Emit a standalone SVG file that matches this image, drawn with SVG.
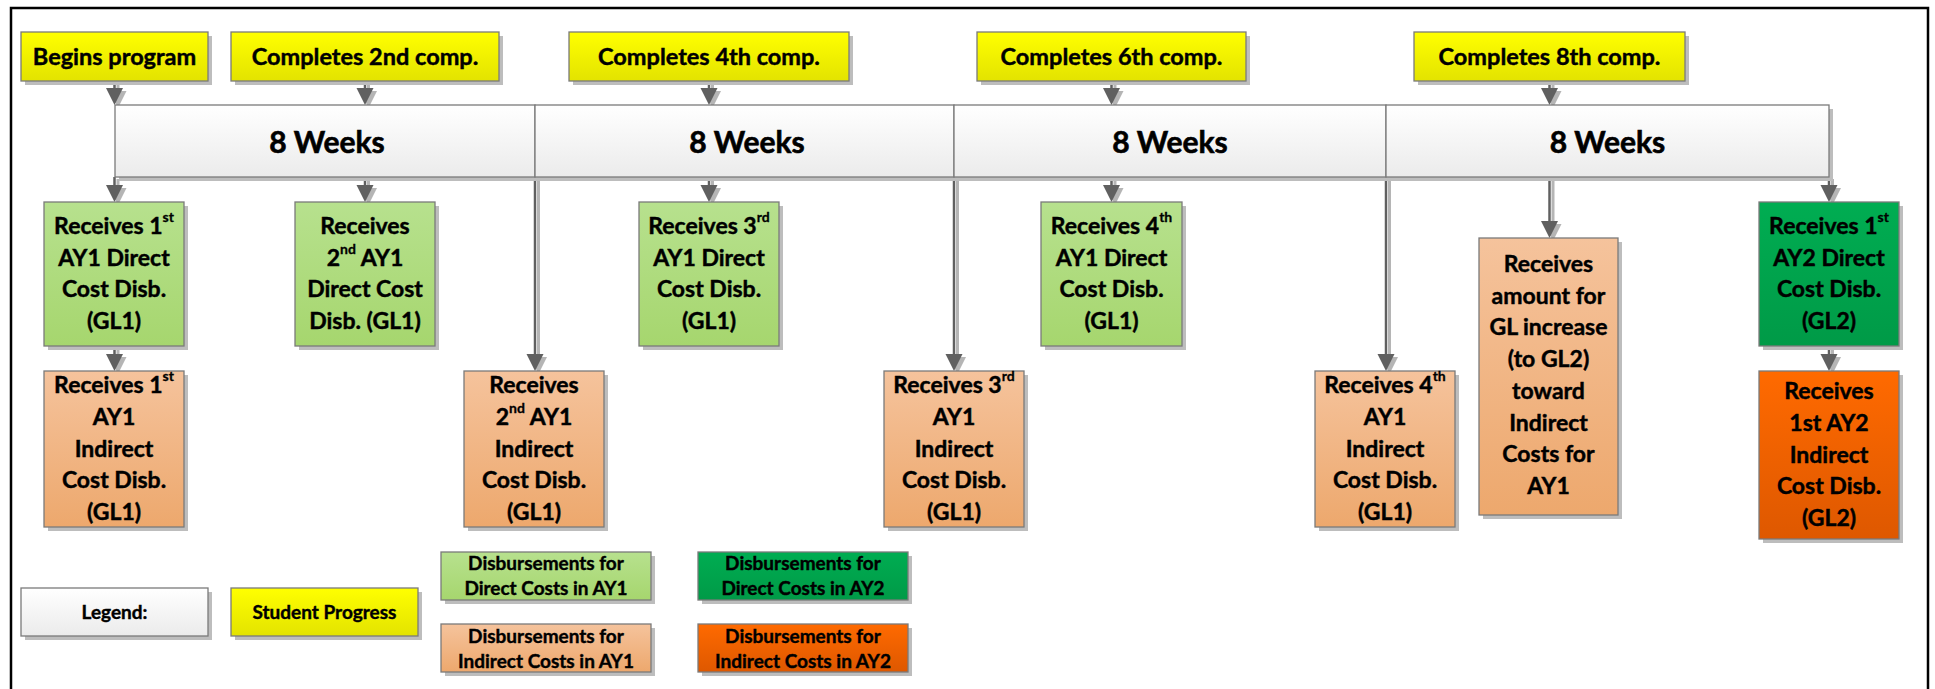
<svg xmlns="http://www.w3.org/2000/svg" width="1935" height="689" viewBox="0 0 1935 689">
<defs>
<linearGradient id="gY" x1="0" y1="0" x2="0" y2="1"><stop offset="0" stop-color="#ffff00"/><stop offset="1" stop-color="#e3e300"/></linearGradient>
<linearGradient id="gW" x1="0" y1="0" x2="0" y2="1"><stop offset="0" stop-color="#ffffff"/><stop offset="1" stop-color="#ebebeb"/></linearGradient>
<linearGradient id="gG" x1="0" y1="0" x2="0" y2="1"><stop offset="0" stop-color="#b7e18e"/><stop offset="1" stop-color="#a6d66e"/></linearGradient>
<linearGradient id="gO" x1="0" y1="0" x2="0" y2="1"><stop offset="0" stop-color="#f5c39c"/><stop offset="1" stop-color="#eda86d"/></linearGradient>
<linearGradient id="gDG" x1="0" y1="0" x2="0" y2="1"><stop offset="0" stop-color="#00ad52"/><stop offset="1" stop-color="#009a47"/></linearGradient>
<linearGradient id="gDO" x1="0" y1="0" x2="0" y2="1"><stop offset="0" stop-color="#ff6a00"/><stop offset="1" stop-color="#de5800"/></linearGradient>
</defs>
<style>
.sh{fill:#bdbdbd}
.bx{stroke:#7a7a7a;stroke-width:1.3}
.y{fill:url(#gY)}
.w{fill:url(#gW)}
.g{fill:url(#gG)}
.o{fill:url(#gO)}
.dg{fill:url(#gDG)}
.do{fill:url(#gDO)}
.t{font-family:Lato,'Liberation Sans',sans-serif;font-weight:700;font-size:23px;text-anchor:middle;fill:#000;stroke:#000;stroke-width:0.45}
.tc{font-size:23.5px}
.tw{font-size:30px;stroke-width:0.6}
.tl{font-size:19px;stroke-width:0.4}
.sup{font-size:14px;stroke-width:0.3}
.ln{stroke:#606060;stroke-width:2.5;fill:none}
.lns{stroke:#b5b5b5;stroke-width:3;fill:none}
.ah{fill:#606060}
.ahs{fill:#b5b5b5}
.border{stroke:#000;stroke-width:2.5;fill:none}
</style>
<path class="border" d="M11,689 V8 H1928 V689"/>

<g id="connectors">
<g id="c-top">
<line class="lns" x1="118" y1="83" x2="118" y2="96"/><polygon class="ahs" points="109.5,91 126.5,91 118,108"/>
<line class="ln" x1="114.5" y1="81" x2="114.5" y2="94"/><polygon class="ah" points="106,88 123,88 114.5,105"/>
<line class="lns" x1="368.5" y1="83" x2="368.5" y2="96"/><polygon class="ahs" points="360,91 377,91 368.5,108"/>
<line class="ln" x1="365" y1="81" x2="365" y2="94"/><polygon class="ah" points="356.5,88 373.5,88 365,105"/>
<line class="lns" x1="712.5" y1="83" x2="712.5" y2="96"/><polygon class="ahs" points="704,91 721,91 712.5,108"/>
<line class="ln" x1="709" y1="81" x2="709" y2="94"/><polygon class="ah" points="700.5,88 717.5,88 709,105"/>
<line class="lns" x1="1115" y1="83" x2="1115" y2="96"/><polygon class="ahs" points="1106.5,91 1123.5,91 1115,108"/>
<line class="ln" x1="1111.5" y1="81" x2="1111.5" y2="94"/><polygon class="ah" points="1103,88 1120,88 1111.5,105"/>
<line class="lns" x1="1553" y1="83" x2="1553" y2="96"/><polygon class="ahs" points="1544.5,91 1561.5,91 1553,108"/>
<line class="ln" x1="1549.5" y1="81" x2="1549.5" y2="94"/><polygon class="ah" points="1541,88 1558,88 1549.5,105"/>
</g>
<g id="c-mid">
<line class="lns" x1="118" y1="179" x2="118" y2="193"/><polygon class="ahs" points="109.5,188 126.5,188 118,205"/>
<line class="ln" x1="114.5" y1="177" x2="114.5" y2="191"/><polygon class="ah" points="106,185 123,185 114.5,202"/>
<line class="lns" x1="368.5" y1="179" x2="368.5" y2="193"/><polygon class="ahs" points="360,188 377,188 368.5,205"/>
<line class="ln" x1="365" y1="177" x2="365" y2="191"/><polygon class="ah" points="356.5,185 373.5,185 365,202"/>
<line class="lns" x1="712.5" y1="179" x2="712.5" y2="193"/><polygon class="ahs" points="704,188 721,188 712.5,205"/>
<line class="ln" x1="709" y1="177" x2="709" y2="191"/><polygon class="ah" points="700.5,185 717.5,185 709,202"/>
<line class="lns" x1="1115" y1="179" x2="1115" y2="193"/><polygon class="ahs" points="1106.5,188 1123.5,188 1115,205"/>
<line class="ln" x1="1111.5" y1="177" x2="1111.5" y2="191"/><polygon class="ah" points="1103,185 1120,185 1111.5,202"/>
<line class="lns" x1="1553" y1="179" x2="1553" y2="229"/><polygon class="ahs" points="1544.5,224 1561.5,224 1553,241"/>
<line class="ln" x1="1549.5" y1="177" x2="1549.5" y2="227"/><polygon class="ah" points="1541,221 1558,221 1549.5,238"/>
<line class="lns" x1="1832.5" y1="179" x2="1832.5" y2="193"/><polygon class="ahs" points="1824,188 1841,188 1832.5,205"/>
<line class="ln" x1="1829" y1="177" x2="1829" y2="191"/><polygon class="ah" points="1820.5,185 1837.5,185 1829,202"/>
</g>
<g id="c-long">
<line class="lns" x1="538.5" y1="179" x2="538.5" y2="362"/><polygon class="ahs" points="530,357 547,357 538.5,374"/>
<line class="ln" x1="535" y1="177" x2="535" y2="360"/><polygon class="ah" points="526.5,354 543.5,354 535,371"/>
<line class="lns" x1="957.5" y1="179" x2="957.5" y2="362"/><polygon class="ahs" points="949,357 966,357 957.5,374"/>
<line class="ln" x1="954" y1="177" x2="954" y2="360"/><polygon class="ah" points="945.5,354 962.5,354 954,371"/>
<line class="lns" x1="1389.5" y1="179" x2="1389.5" y2="362"/><polygon class="ahs" points="1381,357 1398,357 1389.5,374"/>
<line class="ln" x1="1386" y1="177" x2="1386" y2="360"/><polygon class="ah" points="1377.5,354 1394.5,354 1386,371"/>
</g>
<g id="c-low">
<line class="lns" x1="118" y1="348" x2="118" y2="362"/><polygon class="ahs" points="109.5,357 126.5,357 118,374"/>
<line class="ln" x1="114.5" y1="346" x2="114.5" y2="360"/><polygon class="ah" points="106,354 123,354 114.5,371"/>
<line class="lns" x1="1832.5" y1="348" x2="1832.5" y2="362"/><polygon class="ahs" points="1824,357 1841,357 1832.5,374"/>
<line class="ln" x1="1829" y1="346" x2="1829" y2="360"/><polygon class="ah" points="1820.5,354 1837.5,354 1829,371"/>
</g>
</g>

<g id="n-begins">
<rect class="sh" x="25" y="36" width="187" height="49"/>
<rect class="bx y" x="21" y="32" width="187" height="49"/>
<text class="t tc" x="114.5" y="65">Begins program</text>
</g>
<g id="n-comp2">
<rect class="sh" x="235" y="36" width="268" height="49"/>
<rect class="bx y" x="231" y="32" width="268" height="49"/>
<text class="t tc" x="365" y="65">Completes 2nd comp.</text>
</g>
<g id="n-comp4">
<rect class="sh" x="573" y="36" width="280" height="49"/>
<rect class="bx y" x="569" y="32" width="280" height="49"/>
<text class="t tc" x="709" y="65">Completes 4th comp.</text>
</g>
<g id="n-comp6">
<rect class="sh" x="981" y="36" width="269" height="49"/>
<rect class="bx y" x="977" y="32" width="269" height="49"/>
<text class="t tc" x="1111.5" y="65">Completes 6th comp.</text>
</g>
<g id="n-comp8">
<rect class="sh" x="1418" y="36" width="271" height="49"/>
<rect class="bx y" x="1414" y="32" width="271" height="49"/>
<text class="t tc" x="1549.5" y="65">Completes 8th comp.</text>
</g>

<g id="n-week1">
<rect class="sh" x="119" y="109" width="420" height="72"/>
<rect class="bx w" x="115" y="105" width="420" height="72"/>
<text class="t tw" x="327" y="152.7">8 Weeks</text>
</g>
<g id="n-week2">
<rect class="sh" x="539" y="109" width="419" height="72"/>
<rect class="bx w" x="535" y="105" width="419" height="72"/>
<text class="t tw" x="747" y="152.7">8 Weeks</text>
</g>
<g id="n-week3">
<rect class="sh" x="958" y="109" width="432" height="72"/>
<rect class="bx w" x="954" y="105" width="432" height="72"/>
<text class="t tw" x="1170" y="152.7">8 Weeks</text>
</g>
<g id="n-week4">
<rect class="sh" x="1390" y="109" width="443" height="72"/>
<rect class="bx w" x="1386" y="105" width="443" height="72"/>
<text class="t tw" x="1607.5" y="152.7">8 Weeks</text>
</g>

<g id="n-d1">
<rect class="sh" x="48" y="206" width="140" height="144"/>
<rect class="bx g" x="44" y="202" width="140" height="144"/>
<text class="t" x="114" y="234">Receives 1<tspan class="sup" dy="-12">st</tspan></text>
<text class="t" x="114" y="265.7">AY1 Direct</text>
<text class="t" x="114" y="297.4">Cost Disb.</text>
<text class="t" x="114" y="329.1">(GL1)</text>
</g>
<g id="n-d2">
<rect class="sh" x="299" y="206" width="140" height="144"/>
<rect class="bx g" x="295" y="202" width="140" height="144"/>
<text class="t" x="365" y="234">Receives</text>
<text class="t" x="365" y="265.7">2<tspan class="sup" dy="-12">nd</tspan><tspan dy="12"> AY1</tspan></text>
<text class="t" x="365" y="297.4">Direct Cost</text>
<text class="t" x="365" y="329.1">Disb. (GL1)</text>
</g>
<g id="n-d3">
<rect class="sh" x="643" y="206" width="140" height="144"/>
<rect class="bx g" x="639" y="202" width="140" height="144"/>
<text class="t" x="709" y="234">Receives 3<tspan class="sup" dy="-12">rd</tspan></text>
<text class="t" x="709" y="265.7">AY1 Direct</text>
<text class="t" x="709" y="297.4">Cost Disb.</text>
<text class="t" x="709" y="329.1">(GL1)</text>
</g>
<g id="n-d4">
<rect class="sh" x="1045" y="206" width="141" height="144"/>
<rect class="bx g" x="1041" y="202" width="141" height="144"/>
<text class="t" x="1111.5" y="234">Receives 4<tspan class="sup" dy="-12">th</tspan></text>
<text class="t" x="1111.5" y="265.7">AY1 Direct</text>
<text class="t" x="1111.5" y="297.4">Cost Disb.</text>
<text class="t" x="1111.5" y="329.1">(GL1)</text>
</g>
<g id="n-d5">
<rect class="sh" x="1763" y="206" width="140" height="144"/>
<rect class="bx dg" x="1759" y="202" width="140" height="144"/>
<text class="t" x="1829" y="234">Receives 1<tspan class="sup" dy="-12">st</tspan></text>
<text class="t" x="1829" y="265.7">AY2 Direct</text>
<text class="t" x="1829" y="297.4">Cost Disb.</text>
<text class="t" x="1829" y="329.1">(GL2)</text>
</g>

<g id="n-i1">
<rect class="sh" x="48" y="375" width="140" height="156"/>
<rect class="bx o" x="44" y="371" width="140" height="156"/>
<text class="t" x="114" y="393.2">Receives 1<tspan class="sup" dy="-12">st</tspan></text>
<text class="t" x="114" y="424.9">AY1</text>
<text class="t" x="114" y="456.6">Indirect</text>
<text class="t" x="114" y="488.3">Cost Disb.</text>
<text class="t" x="114" y="520">(GL1)</text>
</g>
<g id="n-i2">
<rect class="sh" x="468" y="375" width="140" height="156"/>
<rect class="bx o" x="464" y="371" width="140" height="156"/>
<text class="t" x="534" y="393.2">Receives</text>
<text class="t" x="534" y="424.9">2<tspan class="sup" dy="-12">nd</tspan><tspan dy="12"> AY1</tspan></text>
<text class="t" x="534" y="456.6">Indirect</text>
<text class="t" x="534" y="488.3">Cost Disb.</text>
<text class="t" x="534" y="520">(GL1)</text>
</g>
<g id="n-i3">
<rect class="sh" x="888" y="375" width="140" height="156"/>
<rect class="bx o" x="884" y="371" width="140" height="156"/>
<text class="t" x="954" y="393.2">Receives 3<tspan class="sup" dy="-12">rd</tspan></text>
<text class="t" x="954" y="424.9">AY1</text>
<text class="t" x="954" y="456.6">Indirect</text>
<text class="t" x="954" y="488.3">Cost Disb.</text>
<text class="t" x="954" y="520">(GL1)</text>
</g>
<g id="n-i4">
<rect class="sh" x="1319" y="375" width="140" height="156"/>
<rect class="bx o" x="1315" y="371" width="140" height="156"/>
<text class="t" x="1385" y="393.2">Receives 4<tspan class="sup" dy="-12">th</tspan></text>
<text class="t" x="1385" y="424.9">AY1</text>
<text class="t" x="1385" y="456.6">Indirect</text>
<text class="t" x="1385" y="488.3">Cost Disb.</text>
<text class="t" x="1385" y="520">(GL1)</text>
</g>
<g id="n-gl">
<rect class="sh" x="1483" y="242" width="139" height="277"/>
<rect class="bx o" x="1479" y="238" width="139" height="277"/>
<text class="t" x="1548.5" y="272">Receives</text>
<text class="t" x="1548.5" y="303.7">amount for</text>
<text class="t" x="1548.5" y="335.4">GL increase</text>
<text class="t" x="1548.5" y="367.1">(to GL2)</text>
<text class="t" x="1548.5" y="398.8">toward</text>
<text class="t" x="1548.5" y="430.5">Indirect</text>
<text class="t" x="1548.5" y="462.2">Costs for</text>
<text class="t" x="1548.5" y="493.9">AY1</text>
</g>
<g id="n-i5">
<rect class="sh" x="1763" y="375" width="140" height="168"/>
<rect class="bx do" x="1759" y="371" width="140" height="168"/>
<text class="t" x="1829" y="399.2">Receives</text>
<text class="t" x="1829" y="430.9">1st AY2</text>
<text class="t" x="1829" y="462.6">Indirect</text>
<text class="t" x="1829" y="494.3">Cost Disb.</text>
<text class="t" x="1829" y="526">(GL2)</text>
</g>

<g id="legend-title">
<rect class="sh" x="25" y="592" width="187" height="48"/>
<rect class="bx w" x="21" y="588" width="187" height="48"/>
<text class="t tl" x="114.5" y="618.5">Legend:</text>
</g>
<g id="legend-progress">
<rect class="sh" x="235" y="592" width="187" height="48"/>
<rect class="bx y" x="231" y="588" width="187" height="48"/>
<text class="t tl" x="324.5" y="618.5">Student Progress</text>
</g>
<g id="legend-d1">
<rect class="sh" x="445" y="556" width="210" height="48"/>
<rect class="bx g" x="441" y="552" width="210" height="48"/>
<text class="t tl" x="546" y="570">Disbursements for</text>
<text class="t tl" x="546" y="595">Direct Costs in AY1</text>
</g>
<g id="legend-d2">
<rect class="sh" x="702" y="556" width="210" height="48"/>
<rect class="bx dg" x="698" y="552" width="210" height="48"/>
<text class="t tl" x="803" y="570">Disbursements for</text>
<text class="t tl" x="803" y="595">Direct Costs in AY2</text>
</g>
<g id="legend-i1">
<rect class="sh" x="445" y="628" width="210" height="48"/>
<rect class="bx o" x="441" y="624" width="210" height="48"/>
<text class="t tl" x="546" y="642.5">Disbursements for</text>
<text class="t tl" x="546" y="667.5">Indirect Costs in AY1</text>
</g>
<g id="legend-i2">
<rect class="sh" x="702" y="628" width="210" height="48"/>
<rect class="bx do" x="698" y="624" width="210" height="48"/>
<text class="t tl" x="803" y="642.5">Disbursements for</text>
<text class="t tl" x="803" y="667.5">Indirect Costs in AY2</text>
</g>
</svg>
